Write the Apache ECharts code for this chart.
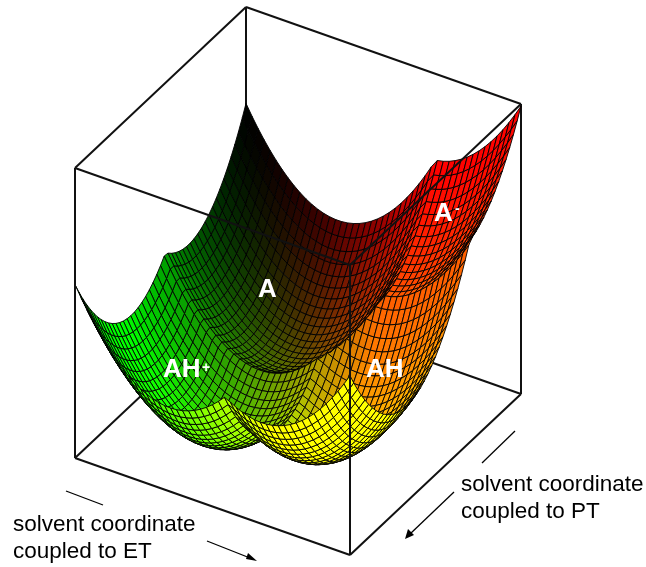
<!DOCTYPE html>
<html><head><meta charset="utf-8">
<style>html,body{margin:0;padding:0;background:#fff}#c{width:646px;height:567px}</style>
<script src="https://cdn.jsdelivr.net/npm/echarts@6/dist/echarts.min.js"></script>
</head><body><div id="c"></div>
<script>
// Well parameters fitted to the edge curves and cusps.
var wellNames = ['AH+', 'AH', 'A', 'A-'];
var wellU     = [0.345, 0.678, 0.335, 0.665];
var wellV     = [0.33,  0.33,  0.663, 0.663];
var wellDepth = [0.0,   0.06,  0.075, 0.40];
var curvU = 2.6, curvV = 2.65;
var meshCells = 46;

// Projection of the unit box (axis units of the hidden cartesian grid)
var origin = [75, 458], uVec = [275, 97], vVec = [171, -161], zVec = [0, -290];
function proj(u, v, z) {
  return [origin[0] + uVec[0]*u + vVec[0]*v + zVec[0]*z,
          origin[1] + uVec[1]*u + vVec[1]*v + zVec[1]*z];
}
function height(u, v) {
  var m = Infinity;
  for (var k = 0; k < wellU.length; k++) {
    var e = wellDepth[k] + curvU*(u-wellU[k])*(u-wellU[k]) + curvV*(v-wellV[k])*(v-wellV[k]);
    if (e < m) m = e;
  }
  return m;
}
function depth(u, v, z) { return 170*u - 275*v + 209.5*z; }

var cells = [];
for (var i = 0; i < meshCells; i++) for (var j = 0; j < meshCells; j++) {
  var uc = (i+.5)/meshCells, vc = (j+.5)/meshCells;
  cells.push({i:i, j:j, d:depth(uc, vc, height(uc, vc))});
}
cells.sort(function(a,b){return a.d-b.d;});
var cellData = cells.map(function(c){return [c.i, c.j];});

var boxBack  = [[[0,1,0],[0,1,1]], [[0,0,0],[0,1,0]], [[0,1,0],[1,1,0]], [[1,1,0],[1,1,1]]];
var boxFront = [[[0,0,1],[0,1,1]], [[0,1,1],[1,1,1]], [[1,1,1],[1,0,1]], [[1,0,1],[0,0,1]],
                [[0,0,0],[0,0,1]], [[1,0,0],[1,0,1]], [[0,0,0],[1,0,0]], [[1,0,0],[1,1,0]]];

function edgeSeries(data, w) {
  return {
    type:'custom', coordinateSystem:'cartesian2d', silent:true, clip:false,
    data:data.map(function(e,k){return [k];}),
    renderItem:function(params, api){
      var e = data[api.value(0)];
      var a = api.coord(proj(e[0][0],e[0][1],e[0][2]));
      var b = api.coord(proj(e[1][0],e[1][1],e[1][2]));
      return {type:'line', shape:{x1:a[0],y1:a[1],x2:b[0],y2:b[1]},
              style:{stroke:'#111', lineWidth:w, fill:null}};
    }
  };
}
function clamp(x){ return Math.round(Math.min(1,Math.max(0,x))*255); }

var chart = echarts.init(document.getElementById('c'));
var font = 'Arial, "Liberation Sans", sans-serif';
function label(t, x, y, size, weight, color){
  return {type:'text', x:x, y:y, silent:true, z:50,
    style:{text:t, fill:color, font:weight+' '+size+'px '+font}};
}
function seg(x1,y1,x2,y2){
  return {type:'line', silent:true, z:40, shape:{x1:x1,y1:y1,x2:x2,y2:y2}, style:{stroke:'#000', lineWidth:1.3}};
}
function head(x,y,bx1,by1,bx2,by2){
  return {type:'polygon', silent:true, z:40, shape:{points:[[x,y],[bx1,by1],[bx2,by2]]}, style:{fill:'#000'}};
}
chart.setOption({
  animation:false,
  grid:{left:0,right:0,top:0,bottom:0},
  xAxis:{type:'value',min:0,max:646,show:false},
  yAxis:{type:'value',min:0,max:567,inverse:true,show:false},
  series:[
    edgeSeries(boxBack, 2),
    {
      type:'custom', coordinateSystem:'cartesian2d', silent:true, clip:false, progressive:0,
      data:cellData,
      renderItem:function(params, api){
        var i = api.value(0), j = api.value(1), n = meshCells;
        var corners = [[i,j],[i+1,j],[i+1,j+1],[i,j+1]];
        var pts = corners.map(function(c){
          var u=c[0]/n, v=c[1]/n;
          return api.coord(proj(u,v,height(u,v)));
        });
        var uc=(i+.5)/n, vc=(j+.5)/n;
        var r = clamp(1.7*Math.pow(uc,1.5)), g = clamp(1.5*Math.pow(1-vc,1.2));
        return {type:'polygon', shape:{points:pts},
          style:{fill:'rgb('+r+','+g+',0)', stroke:'rgba(0,0,0,0.9)', lineWidth:1}};
      }
    },
    edgeSeries(boxFront, 2)
  ],
  graphic:{elements:[
    label('A', 258, 277, 26, 'bold', '#fff'),
    label('AH', 163, 357, 26, 'bold', '#fff'),
    label('+', 202, 361, 14, 'bold', '#fff'),
    label('AH', 366, 357, 26, 'bold', '#fff'),
    label('A', 434, 201, 26, 'bold', '#fff'),
    label('-', 455, 202, 14, 'bold', '#fff'),
    label('solvent coordinate', 13, 513, 22.5, 'normal', '#000'),
    label('coupled to ET', 13, 540, 22.5, 'normal', '#000'),
    label('solvent coordinate', 461, 473, 22.5, 'normal', '#000'),
    label('coupled to PT', 461, 500, 22.5, 'normal', '#000'),
    seg(66,491,103,505), seg(207,541,250,558), head(257,561,248,553,246,559),
    seg(515,431,482,463), seg(454,492,410,534), head(405,539,408,529,414,535)
  ]}
});
</script></body></html>
